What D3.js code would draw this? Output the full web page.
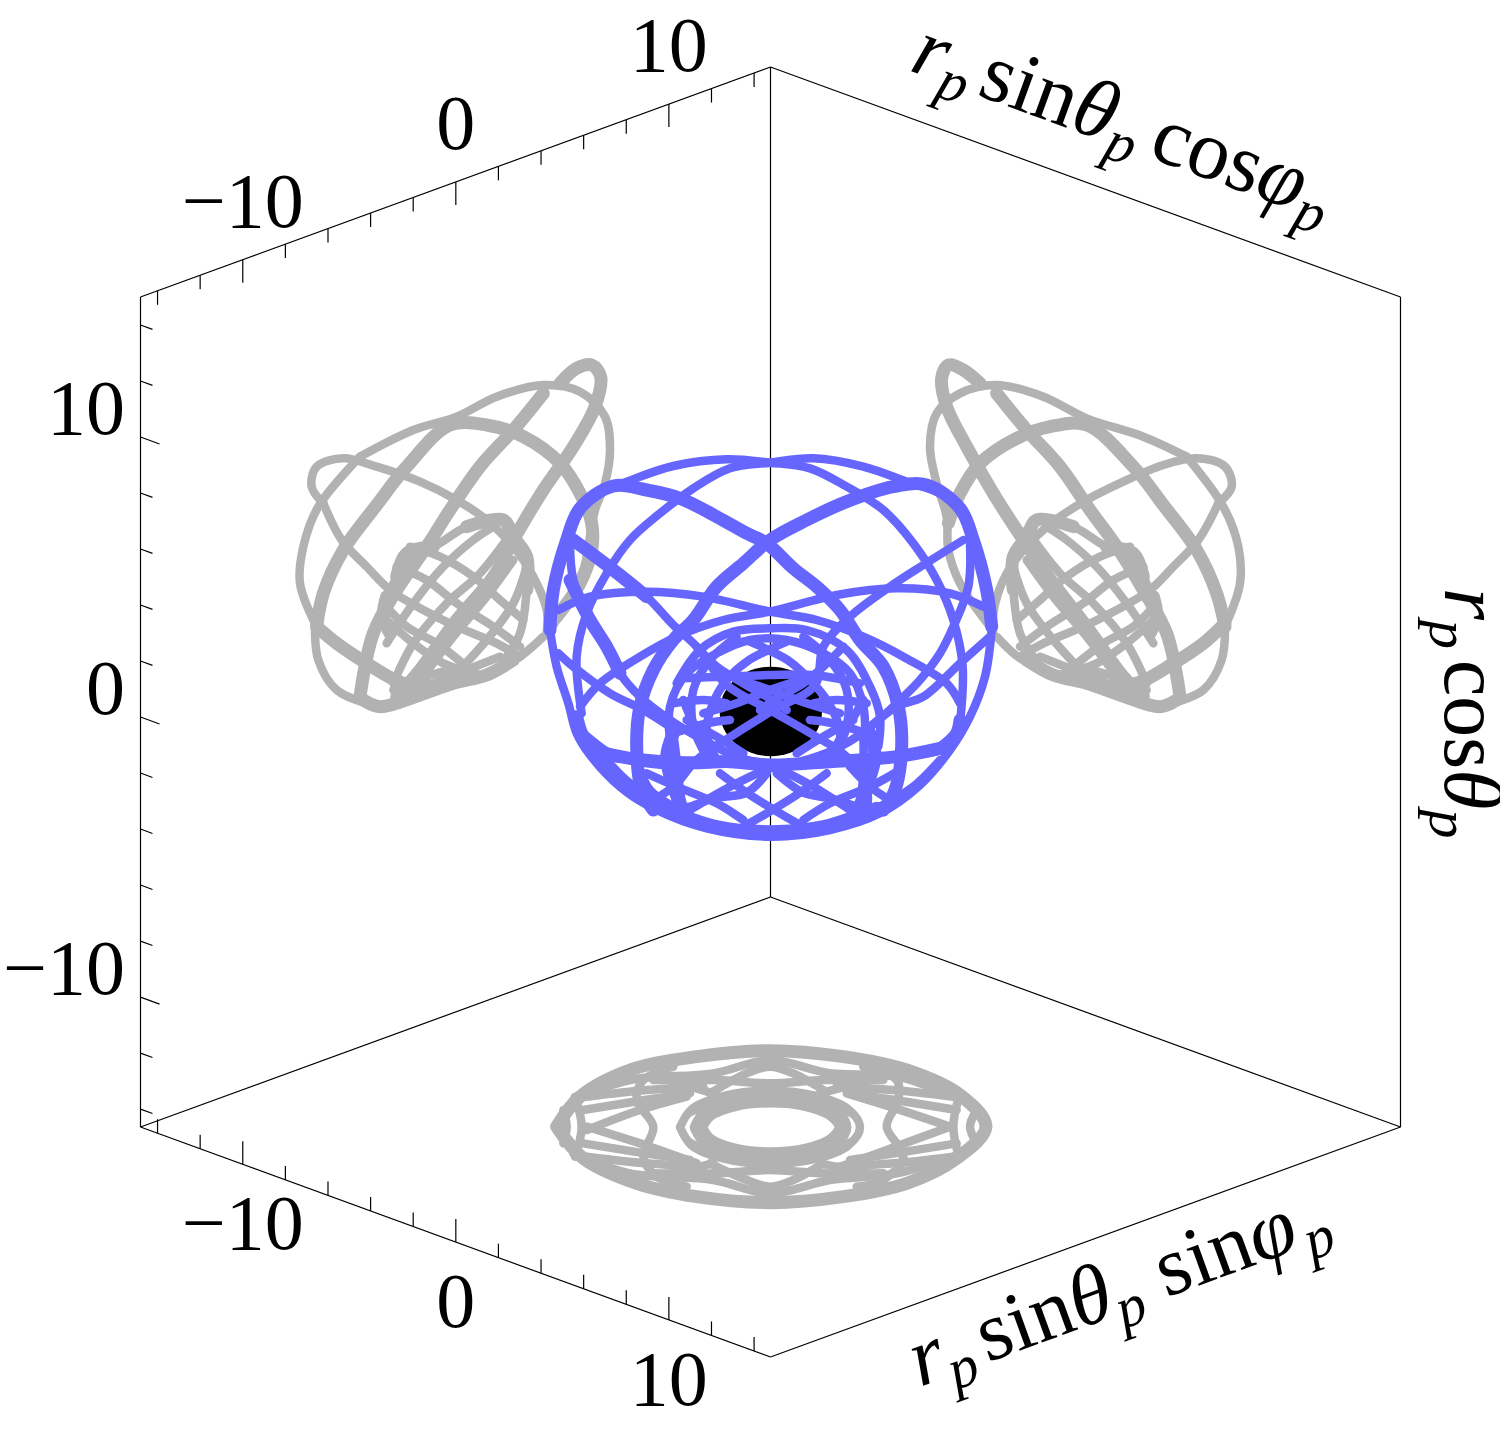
<!DOCTYPE html>
<html><head><meta charset="utf-8">
<script src="https://d3js.org/d3.v7.min.js"></script>
<style>html,body{margin:0;padding:0;background:#fff}svg{display:block}svg text{fill:#000}</style>
</head><body><div id="c"></div>
<script>
// Axis values
const axisDomain=[-14.8,14.77];
const heightDomain=[-14.64,15];
const tickValues=[-14,-12,-10,-8,-6,-4,-2,0,2,4,6,8,10,12,14];
const majorTicks=[-10,0,10];
const horizonCentre=[0,0.2];
const horizonRadius=[2.4,1.6];

// Traced curves: traced-view units, each layer has its own view scale below.
const blueHeavy=[
[[60,570],[70,450],[110,300],[150,205],[250,138],[350,150],[450,175],[560,230],[650,280],[710,310],[790,385],[860,440],[930,510],[990,600],[1060,680],[1105,800],[1115,920],[1095,1050],[1060,1110]],
[[1385,560],[1370,450],[1330,300],[1290,205],[1190,135],[1090,140],[950,185],[830,240],[720,300],[640,370],[560,440],[490,540],[430,600],[370,690],[330,800],[320,920],[335,1050],[370,1110]],
[[400,1105],[560,1160],[720,1175],[880,1160],[1040,1105]],
[[130,300],[250,390],[350,470]],
[[120,420],[180,540],[230,620],[270,700]],
[[200,935],[300,955],[470,968],[600,965],[720,975],[900,965],[1100,950],[1230,925]],
[[140,830],[160,890],[200,930]],
[[1290,840],[1280,880],[1240,920]],
[[430,880],[410,950],[430,1040],[460,1110]],
[[1020,880],[1035,950],[1010,1040],[985,1110]]
];
const blueLight=[
[[105,310],[135,225],[190,165],[290,125],[430,78],[590,58],[720,68],[840,85],[950,140],[1060,210],[1150,310],[1220,420],[1270,540],[1298,680],[1290,850]],
[[1335,300],[1300,225],[1240,165],[1130,125],[1000,80],[850,55],[720,68],[600,85],[490,145],[390,220],[300,300],[230,400],[170,520],[140,650],[155,820]],
[[60,570],[80,680],[115,790],[140,880],[180,945],[270,1040],[380,1110],[530,1165],[720,1190],[900,1170],[1050,1120],[1170,1035],[1260,930],[1320,830],[1365,710],[1385,570]],
[[120,310],[130,420],[180,540],[230,620],[270,700],[330,770],[420,840],[520,900],[620,950],[730,980],[850,1040],[960,1110]],
[[1320,310],[1315,440],[1270,560],[1230,640],[1170,720],[1100,790],[1010,870],[910,930],[810,965],[720,985],[600,1040],[480,1110]],
[[130,300],[250,390],[350,470],[430,555],[500,620],[590,735],[720,810],[850,885],[950,950],[1010,1040],[1010,1120]],
[[1300,300],[1180,375],[1080,440],[960,530],[880,620],[855,735],[730,810],[610,885],[500,960],[440,1040],[440,1110]],
[[85,510],[180,470],[350,455],[520,470],[720,515],[860,540],[1000,590],[1120,650],[1250,730],[1290,790]],
[[1360,500],[1260,460],[1100,445],[920,465],[720,515],[580,540],[440,590],[330,650],[210,730],[150,800]],
[[85,640],[130,680],[240,760],[340,810],[420,860]],
[[1380,590],[1290,670],[1180,770],[1100,800],[1020,860]],
[[150,870],[250,945],[400,975],[600,965],[720,975],[900,965],[1100,950],[1250,920],[1300,840]],
[[230,960],[300,1030],[400,1090],[460,1120]],
[[1230,960],[1150,1040],[1050,1100]],
[[570,1000],[650,1058],[750,1120],[820,1160]],
[[890,1000],[810,1058],[710,1120],[640,1160]],
[[710,1000],[650,1058],[550,1075],[480,1100],[420,1110]],
[[740,1000],[820,1058],[900,1075],[980,1100],[1040,1120]],
[[440,730],[510,630],[610,575],[720,565],[830,570],[950,630],[1020,740],[1050,830],[1045,920]],
[[770,605],[715,630],[650,665],[590,720],[545,800],[530,880],[560,960]],
[[660,605],[715,630],[780,665],[840,720],[890,780],[930,870],[920,950]],
[[420,900],[420,800],[470,700],[560,640],[660,600],[770,600],[880,640],[960,700],[1000,800],[1005,900]],
[[460,715],[580,710],[720,705],[850,705],[990,730]],
[[520,820],[620,790],[720,750],[810,720]],
[[930,820],[830,790],[720,750],[630,720]],
[[460,780],[490,850],[540,930],[560,960]],
[[1000,780],[960,850],[910,930],[890,970]],
[[430,880],[440,960],[450,1050],[460,1110]],
[[1000,880],[1000,1000],[990,1100]],
[[240,1010],[310,1070],[430,1130]],
[[1200,1000],[1120,1070],[1010,1130]],
[[200,940],[260,1010],[350,1080],[430,1120]],
[[330,990],[360,1050],[430,1100]],
[[350,1000],[440,1040],[560,1090],[640,1140]],
[[1110,990],[1020,1040],[900,1090],[820,1140]],
[[480,980],[430,1040],[370,1080]],
[[960,980],[1020,1040],[1080,1080]],
[[620,590],[540,660],[490,750],[490,860],[530,950]],
[[820,590],[900,660],[950,750],[950,860],[910,950]],
[[500,620],[560,680],[640,730],[710,770],[770,810]],
[[940,620],[880,680],[820,730],[750,770],[690,810]],
[[430,790],[520,780],[590,790]],
[[1010,790],[920,780],[850,790]],
[[470,840],[560,890],[640,940]],
[[970,840],[880,890],[800,940]],
[[430,880],[530,850],[600,840]],
[[1010,880],[910,850],[840,840]]
];
const leftHeavy=[
[[840,100],[890,55],[935,45],[962,80],[945,170],[880,290],[790,420],[700,570],[640,680],[530,810],[420,960],[350,1040]],
[[110,830],[130,730],[190,600],[290,465],[380,350],[510,225],[620,225],[730,260],[840,340],[900,430],[935,520],[935,600],[900,700],[830,800]],
[[790,130],[700,240],[600,350],[510,480],[440,590],[350,720],[280,850],[240,1040]],
[[110,830],[170,880],[260,940],[370,1000],[470,1010]],
[[350,680],[380,610],[460,590]],
[[560,530],[670,510],[700,560],[740,620],[740,720]],
[[320,740],[310,800],[330,850]],
[[250,1050],[300,1070],[420,1035],[520,1000],[620,975],[700,930]]
];
const leftLight=[
[[240,320],[400,240],[530,200],[650,140],[790,105],[900,125],[975,200],[990,300],[975,400],[945,480],[930,560],[910,660],[860,760],[810,840]],
[[130,460],[95,410],[110,350],[190,325],[290,350],[420,395],[530,450],[620,510],[700,590],[760,680],[800,780],[800,850]],
[[130,460],[185,570],[260,650],[330,720],[430,780],[530,830],[650,880],[720,920]],
[[105,820],[60,700],[70,590],[115,470],[240,320]],
[[105,820],[115,930],[170,1020],[260,1060]],
[[260,1060],[300,1075],[420,1035],[520,1000],[620,975],[720,920],[790,860]],
[[310,760],[350,680],[380,610],[460,590],[560,530],[670,510],[700,560],[740,620],[740,720],[720,850],[680,920]],
[[320,880],[400,760],[490,650],[580,570],[640,530]],
[[340,1000],[400,880],[500,760],[600,670],[700,540]],
[[430,980],[520,860],[620,740],[700,630]],
[[500,1000],[620,870],[700,760],[740,650]],
[[350,650],[440,690],[530,760],[640,830],[720,890]],
[[390,590],[480,620],[580,680],[660,750],[730,810]],
[[320,810],[400,880],[490,940],[600,975]],
[[310,760],[380,830],[470,880],[560,950]],
[[460,1000],[560,960],[660,920]],
[[340,1020],[470,970],[560,950]]
];
const rightHeavy=[
[[210,100],[160,60],[115,45],[95,85],[110,170],[170,290],[250,430],[340,570],[430,700],[530,830],[640,980],[700,1040]],
[[945,830],[920,730],[860,600],[760,465],[670,350],[530,225],[420,230],[320,265],[210,340],[150,430],[115,520]],
[[260,130],[350,240],[450,350],[540,480],[620,590],[700,720],[770,850],[810,1040]],
[[945,820],[880,880],[790,940],[680,1000],[580,1010]],
[[700,680],[670,610],[590,590]],
[[490,530],[380,510],[350,560],[310,620],[310,720]],
[[730,740],[740,800],[720,850]],
[[800,1050],[750,1070],[630,1035],[530,1000],[430,975],[350,930]]
];
const rightLight=[
[[830,320],[700,260],[530,205],[400,140],[260,105],[150,130],[80,190],[60,290],[80,400],[110,500],[115,600],[150,700],[240,830]],
[[925,460],[965,410],[945,350],[860,325],[760,345],[640,395],[530,450],[430,515],[340,600],[280,690],[250,790],[250,860]],
[[925,460],[865,570],[790,650],[720,720],[620,780],[520,830],[400,880],[330,920]],
[[945,830],[990,700],[985,590],[940,470],[830,320]],
[[945,830],[935,930],[880,1020],[790,1060],[750,1075],[630,1035],[530,1000],[430,970],[330,925],[260,860]],
[[740,760],[700,680],[670,610],[590,590],[490,530],[380,510],[350,560],[310,620],[310,720],[330,850],[370,920]],
[[730,880],[650,760],[560,650],[470,570],[410,530]],
[[710,1000],[650,880],[550,760],[450,670],[350,540]],
[[620,980],[530,860],[430,740],[350,630]],
[[550,1000],[430,870],[350,760],[310,650]],
[[700,650],[610,690],[520,760],[410,830],[330,890]],
[[660,590],[570,620],[470,680],[390,750],[320,810]],
[[730,810],[650,880],[560,940],[450,975]],
[[740,760],[670,830],[580,880],[490,950]],
[[590,1000],[490,960],[390,920]],
[[710,1020],[580,970],[490,950]]
];
const floorOutline=[
[[80,290],[150,200],[300,120],[500,80],[720,62],[940,80],[1130,120],[1290,195],[1368,290],[1280,385],[1130,460],[940,500],[720,518],[500,500],[320,460],[160,385],[80,290]]
];
const floorHeavy=[
[[505,292],[534,250],[614,218],[722,207],[830,218],[910,250],[939,292],[910,334],[830,366],[722,377],[614,366],[534,334],[505,292]]
];
const floorLight=[
[[450,292],[486,237],[585,197],[720,182],[855,197],[954,237],[990,292],[954,347],[855,387],[720,402],[585,387],[486,347],[450,292]],
[[475,250],[520,228],[600,205]],[[475,335],[520,358],[600,380]],
[[965,250],[920,228],[840,205]],[[965,335],[920,358],[840,380]],
[[430,110],[340,150],[320,210],[370,290],[340,380],[380,440],[470,470]],
[[1000,110],[1100,150],[1105,210],[1070,290],[1120,380],[1060,450],[980,470]],
[[130,210],[300,150],[550,130],[720,90],[900,130],[1100,140],[1300,210]],
[[130,370],[300,430],[550,450],[720,490],[900,450],[1100,430],[1300,370]],
[[170,300],[330,240],[470,200]],
[[170,290],[360,350],[500,400]],
[[1260,290],[1080,230],[950,190]],
[[1260,290],[1070,360],[930,410]],
[[1285,205],[1270,290],[1285,375]],
[[135,200],[155,290],[135,380]],
[[100,240],[110,290],[100,340]],
[[1340,240],[1320,290],[1340,340]],
[[540,190],[650,130],[720,110],[790,130],[880,180]],
[[540,400],[650,450],[720,470],[790,450],[880,400]],
[[380,140],[550,190]],[[1060,140],[870,190]],[[380,440],[550,400]],[[1060,440],[870,400]],
[[170,380],[350,400],[520,410]],[[170,200],[350,180],[520,170]],
[[1270,380],[1090,400],[920,410]],[[1270,200],[1090,180],[920,170]],
[[370,150],[560,150],[720,160],[880,150],[1060,150]],
[[370,430],[560,430],[720,420],[880,430],[1060,430]],
[[160,240],[345,210],[480,190]],[[1280,240],[1095,210],[960,190]],
[[160,340],[345,370],[480,390]],[[1280,340],[1095,370],[960,390]]
];

// Scales
const W=1500,H=1429;
const svg=d3.select("#c").append("svg").attr("width",W).attr("height",H).attr("font-family","'Liberation Serif','Times New Roman',Times,serif");
const ax=d3.scaleLinear().domain(axisDomain).range([140.5,770.5]);
const bottomY=d3.scaleLinear().domain(axisDomain).range([1127,1357]);
const topY=d3.scaleLinear().domain(axisDomain).range([297,67]);
const zY=d3.scaleLinear().domain(heightDomain).range([1127,297]);

// Box
const boxEdges=[[[140.5,297],[770.5,67]],[[770.5,67],[1400.5,297]],[[1400.5,297],[1400.5,1127]],[[1400.5,1127],[770.5,1357]],[[770.5,1357],[140.5,1127]],[[140.5,1127],[140.5,297]],[[770.5,67],[770.5,897]],[[770.5,897],[140.5,1127]],[[770.5,897],[1400.5,1127]]];
svg.append("g").selectAll("line").data(boxEdges).join("line")
 .attr("x1",d=>d[0][0]).attr("y1",d=>d[0][1]).attr("x2",d=>d[1][0]).attr("y2",d=>d[1][1])
 .attr("stroke","#000").attr("stroke-width",1.2);
const tg=svg.append("g").attr("stroke","#000").attr("stroke-width",1.2);
const isMajor=t=>majorTicks.includes(t);
tg.selectAll(".b").data(tickValues).join("line").attr("x1",ax).attr("x2",ax).attr("y1",bottomY).attr("y2",t=>bottomY(t)-(isMajor(t)?23:14));
tg.selectAll(".t").data(tickValues,t=>"t"+t).join("line").attr("x1",ax).attr("x2",ax).attr("y1",topY).attr("y2",t=>topY(t)+(isMajor(t)?23:14));
tg.selectAll(".z").data(tickValues,t=>"z"+t).join("line").attr("x1",140.5).attr("y1",zY).attr("x2",t=>140.5+(isMajor(t)?19:12)).attr("y2",t=>zY(t)+(isMajor(t)?7:4.4));

// Tick labels
const fmt=t=>t<0?"\u2212"+Math.abs(t):String(t);
const lab=svg.append("g").attr("font-size",78).attr("text-anchor","middle");
lab.selectAll(".lt").data(majorTicks,t=>"a"+t).join("text").text(fmt).attr("x",ax).attr("y",t=>topY(t)-33);
lab.selectAll(".lb").data(majorTicks,t=>"b"+t).join("text").text(fmt).attr("x",ax).attr("y",t=>bottomY(t)+85);
svg.append("g").attr("font-size",78).attr("text-anchor","end").selectAll("text").data(majorTicks).join("text").text(fmt).attr("x",125).attr("y",t=>zY(t)-3);

// Axis titles
function title(x,y,rot,parts,size){
 const t=svg.append("text").attr("transform",`translate(${x},${y}) rotate(${rot})`).attr("font-size",size);
 let prev=0;
 parts.forEach(p=>{const s=t.append("tspan").text(p.s);
  if(p.it)s.attr("font-style","italic");
  const sub=p.sub?15:0; s.attr("dy",sub-prev); prev=sub;
  if(p.sub)s.attr("font-size",58);
  if(p.dx)s.attr("dx",p.dx);});
}
title(908,70,20,[{s:"r",it:1},{s:"p",it:1,sub:1},{s:"sin",dx:10},{s:"\u03B8",it:1},{s:"p",it:1,sub:1},{s:"cos",dx:14},{s:"\u03C6",it:1},{s:"p",it:1,sub:1}],84);
title(920,1387,-20,[{s:"r",it:1},{s:"p",it:1,sub:1},{s:"sin",dx:10},{s:"\u03B8",it:1},{s:"p",it:1,sub:1},{s:"sin",dx:22},{s:"\u03C6",it:1},{s:"p",it:1,sub:1,dx:5}],84);
title(1445,588,90,[{s:"r",it:1},{s:"p",it:1,sub:1},{s:"cos",dx:11},{s:"\u03B8",it:1},{s:"p",it:1,sub:1}],82);

// Curves
function layer(heavy,light,color,domX,rangeX,domY,rangeY,wLight,wHeavy){
 const x=d3.scaleLinear().domain(domX).range(rangeX), y=d3.scaleLinear().domain(domY).range(rangeY);
 const line=d3.line().x(d=>x(d[0])).y(d=>y(d[1])).curve(d3.curveCatmullRom.alpha(0.5));
 const g=svg.append("g").attr("fill","none").attr("stroke",color).attr("stroke-linecap","round").attr("stroke-linejoin","round");
 g.selectAll(".l").data(light).join("path").attr("d",line).attr("stroke-width",wLight);
 g.selectAll(".h").data(heavy,(d,i)=>"h"+i).join("path").attr("d",line).attr("stroke-width",wHeavy);
}
const gray="#b2b2b2",blue="#6666ff";
layer(leftHeavy,leftLight,gray,[0,1050],[280,630],[0,1110],[350,720],8.5,13);
layer(rightHeavy,rightLight,gray,[0,1050],[910,1260],[0,1110],[350,720],8.5,13);
layer(floorHeavy,floorLight,gray,[0,1440],[530,1010],[0,570],[1030,1220],8.5,17);
layer(floorOutline,[],gray,[0,1440],[530,1010],[0,570],[1030,1220],8.5,13);
// Horizon sphere
svg.append("ellipse").attr("cx",ax(horizonCentre[0])+315).attr("cy",zY(horizonCentre[1]))
 .attr("rx",ax(horizonRadius[0])-ax(0)).attr("ry",zY(0)-zY(horizonRadius[1])).attr("fill","#000");
layer(blueHeavy,blueLight,blue,[0,1440],[530,1010],[0,1260],[440,860],8.5,13);
</script></body></html>
